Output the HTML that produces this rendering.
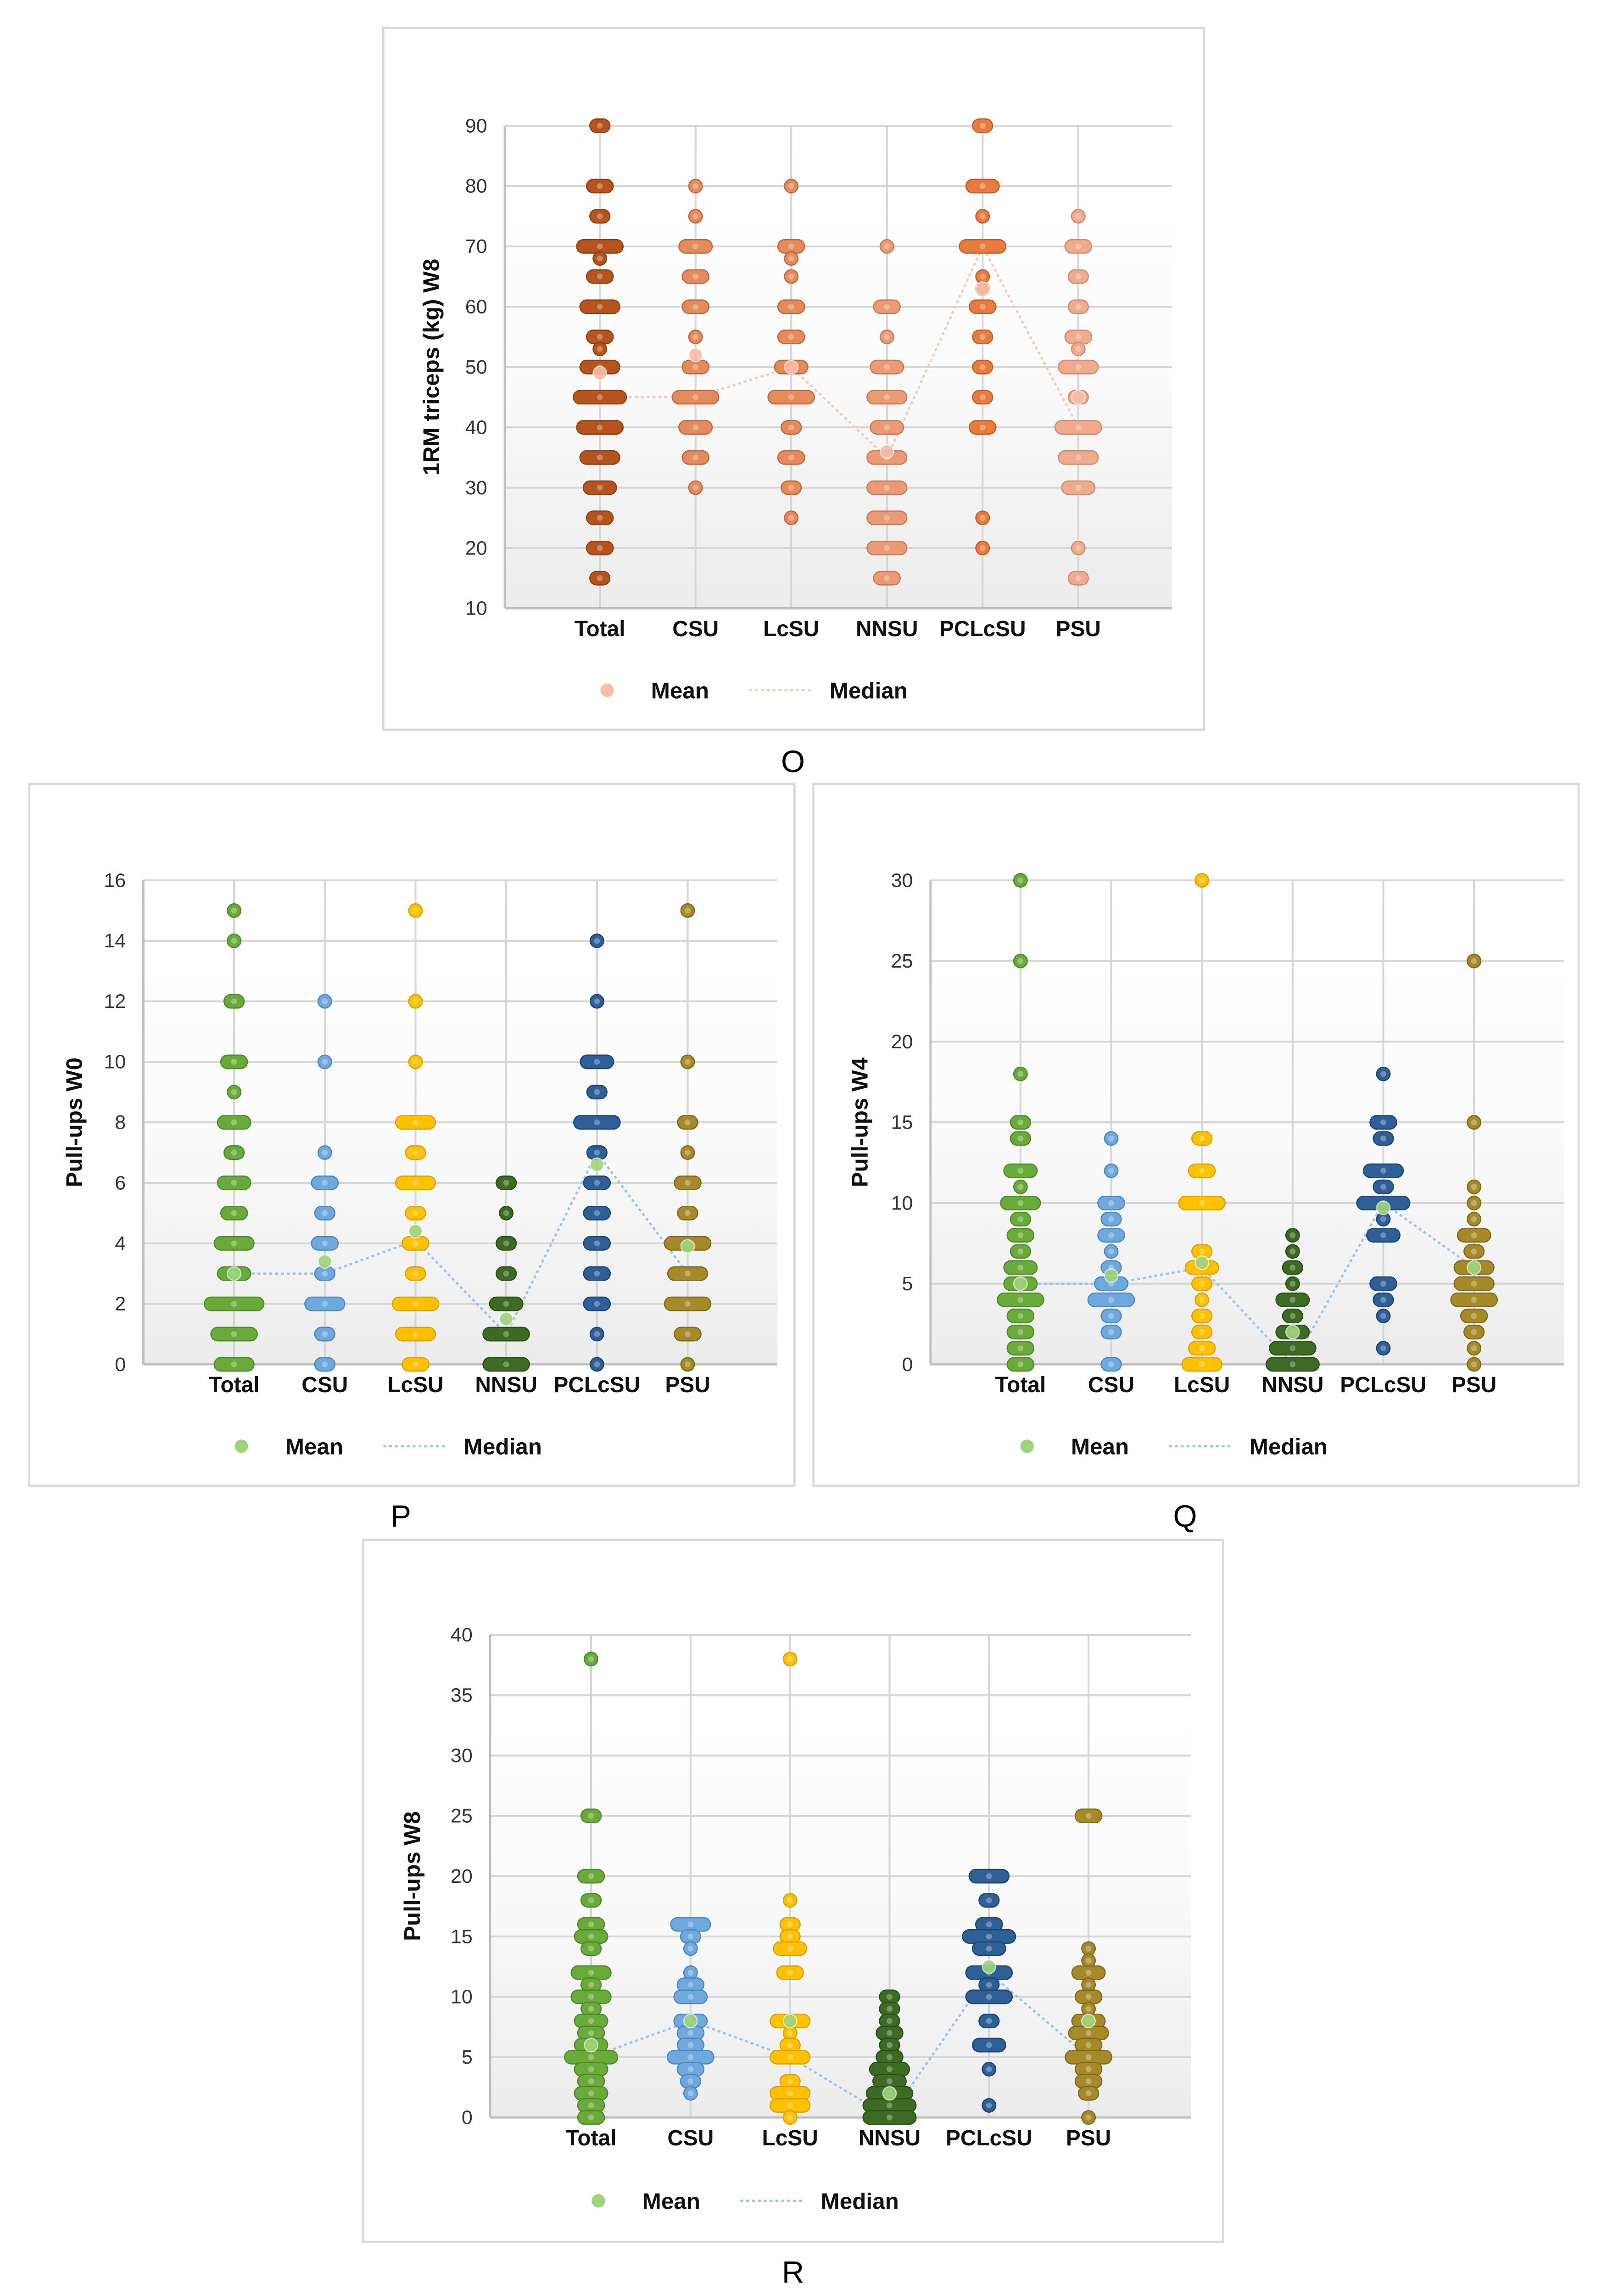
<!DOCTYPE html>
<html><head><meta charset="utf-8"><style>
html,body{margin:0;padding:0;background:#fff;overflow:hidden;width:100%;height:100%}
svg{display:block;position:absolute;left:0;top:0;width:100vw;height:100vh}
text{font-family:"Liberation Sans",Arial,sans-serif}
</style></head><body>
<svg id="fig" xmlns="http://www.w3.org/2000/svg" viewBox="0 0 1110 1569.4" preserveAspectRatio="none">
<defs>
<linearGradient id="bg" x1="0" y1="0" x2="0" y2="1"><stop offset="0" stop-color="#ffffff"/><stop offset="0.5" stop-color="#fbfbfb"/><stop offset="1" stop-color="#ececec"/></linearGradient>
</defs>
</svg>
<script>
const categories = ["Total","CSU","LcSU","NNSU","PCLcSU","PSU"];
// O: [value,count]
const oTotal=[[90,2],[80,3],[75,2],[70,6],[68,1],[65,3],[60,5],[55,3],[53,1],[50,5],[45,7],[40,6],[35,5],[30,4],[25,3],[20,3],[15,2]];
const oCSU=[[80,1],[75,1],[70,4],[65,3],[60,3],[55,1],[50,3],[45,6],[40,4],[35,3],[30,1]];
const oLcSU=[[80,1],[70,3],[68,1],[65,1],[60,3],[55,3],[50,4],[45,6],[40,2],[35,3],[30,2],[25,1]];
const oNNSU=[[70,1],[60,3],[55,1],[50,4],[45,5],[40,4],[35,5],[30,5],[25,5],[20,5],[15,3]];
const oPCLcSU=[[90,2],[80,4],[75,1],[70,6],[65,1],[63,1],[60,3],[55,2],[50,2],[45,2],[40,3],[25,1],[20,1]];
const oPSU=[[75,1],[70,3],[65,2],[60,2],[55,3],[53,1],[50,5],[45,2],[40,6],[35,5],[30,4],[20,1],[15,2]];
const oMedian=[45,45,50,35,70,40];
const oMean=[49,52,50,36,63,45];
const oTicks=[10,20,30,40,50,60,70,80,90];

const pTotal=[[15,1],[14,1],[12,2],[10,3],[9,1],[8,4],[7,2],[6,4],[5,3],[4,5],[3,4],[2,8],[1,6],[0,5]];
const pCSU=[[12,1],[10,1],[7,1],[6,3],[5,2],[4,3],[3,2],[2,5],[1,2],[0,2]];
const pLcSU=[[15,1],[12,1],[10,1],[8,5],[7,2],[6,5],[5,2],[4,3],[3,2],[2,6],[1,5],[0,3]];
const pNNSU=[[6,2],[5,1],[4,2],[3,2],[2,4],[1,6],[0,6]];
const pPCLcSU=[[14,1],[12,1],[10,4],[9,2],[8,6],[7,2],[6,3],[5,3],[4,3],[3,3],[2,3],[1,1],[0,1]];
const pPSU=[[15,1],[10,1],[8,2],[7,1],[6,3],[5,2],[4,6],[3,5],[2,6],[1,3],[0,1]];
const pMedian=[3,3,4.1,1,7,3];
const pMean=[3,3.4,4.4,1.5,6.6,3.9];
const pTicks=[0,2,4,6,8,10,12,14,16];

const qTotal=[[30,1],[25,1],[18,1],[15,2],[14,2],[12,4],[11,1],[10,5],[9,2],[8,3],[7,2],[6,4],[5,4],[4,6],[3,3],[2,3],[1,3],[0,3]];
const qCSU=[[14,1],[12,1],[10,3],[9,2],[8,3],[7,1],[6,2],[5,4],[4,6],[3,2],[2,2],[0,2]];
const qLcSU=[[30,1],[14,2],[12,3],[10,6],[7,2],[6,4],[5,2],[4,1],[3,2],[2,2],[1,3],[0,5]];
const qNNSU=[[8,1],[7,1],[6,2],[5,1],[4,4],[3,2],[2,4],[1,6],[0,7]];
const qPCLcSU=[[18,1],[15,3],[14,2],[12,5],[11,2],[10,7],[9,1],[8,4],[5,3],[4,2],[3,1],[1,1]];
const qPSU=[[25,1],[15,1],[11,1],[10,1],[9,1],[8,4],[7,2],[6,5],[5,5],[4,6],[3,3],[2,2],[1,1],[0,1]];
const qMedian=[5,5,6,0,10,6];
const qMean=[5,5.5,6.3,2,9.7,6];
const qTicks=[0,5,10,15,20,25,30];

const rTotal=[[38,1],[25,2],[20,3],[18,2],[16,3],[15,4],[14,2],[12,5],[11,2],[10,5],[9,2],[8,4],[7,3],[6,4],[5,7],[4,4],[3,3],[2,4],[1,3],[0,3]];
const rCSU=[[16,5],[15,2],[14,1],[12,1],[11,3],[10,4],[8,4],[7,3],[6,3],[5,6],[4,3],[3,2],[2,1]];
const rLcSU=[[38,1],[18,1],[16,2],[15,2],[14,4],[12,3],[8,5],[7,1],[6,2],[5,5],[3,2],[2,5],[1,5],[0,1]];
const rNNSU=[[10,2],[9,2],[8,2],[7,3],[6,2],[5,3],[4,5],[3,4],[2,6],[1,7],[0,7]];
const rPCLcSU=[[20,5],[18,2],[16,3],[15,7],[14,4],[12,6],[11,2],[10,6],[8,2],[6,4],[4,1],[1,1]];
const rPSU=[[25,3],[14,1],[13,1],[12,4],[11,1],[10,3],[9,1],[8,4],[7,5],[6,3],[5,6],[4,3],[3,3],[2,2],[0,1]];
const rMedian=[5,8,5,0,12,5];
const rMean=[6,8,8,2,12.5,8];
const rTicks=[0,5,10,15,20,25,30,35,40];

const NS="http://www.w3.org/2000/svg";
const svg=document.getElementById('fig');
function mk(tag,attrs,parent){const e=document.createElementNS(NS,tag);for(const k in attrs)e.setAttribute(k,attrs[k]);(parent||svg).appendChild(e);return e;}

function panel(cfg){
  const g=mk('g',{});
  
  
  const fr=mk('rect',{x:cfg.fx,y:cfg.fy,width:cfg.fw,height:cfg.fh,fill:'#fff',stroke:'#d9d9d9','stroke-width':1.5},g);
  
  
  const [x0,x1,y0,y1]=[cfg.px0,cfg.px1,cfg.py0,cfg.py1];
  const tmin=cfg.ticks[0],tmax=cfg.ticks[cfg.ticks.length-1];
  const ys=v=>y1-(v-tmin)/(tmax-tmin)*(y1-y0);
  const xs=i=>cfg.cx0+i*cfg.cstep;
  const bg=mk('rect',{x:x0,y:y0,width:x1-x0,height:y1-y0,fill:'url(#bg)'},g);
  
  
  cfg.ticks.forEach(t=>{
    const l=mk('line',{x1:x0,x2:x1,y1:ys(t),y2:ys(t),stroke:'#d6d6d6','stroke-width':1.3},g);
    
    
    const tx=mk('text',{x:x0-12,y:ys(t)+4.5,'text-anchor':'end','font-size':13.5,fill:'#333'},g);
    tx.textContent=t;
    
    
  });
  categories.forEach((c,i)=>{
    const l=mk('line',{x1:xs(i),x2:xs(i),y1:y0,y2:y1,stroke:'#d6d6d6','stroke-width':1.3},g);
    
    
    const tx=mk('text',{x:xs(i),y:y1+19,'text-anchor':'middle','font-size':15,'font-weight':'bold',fill:'#111'},g);
    tx.textContent=c;
    
    
  });
  const ax=mk('line',{x1:x0,x2:x0,y1:y0,y2:y1,stroke:'#bfbfbf','stroke-width':1.5},g);
  
  
  const ax2=mk('line',{x1:x0,x2:x1,y1:y1,y2:y1,stroke:'#bfbfbf','stroke-width':1.5},g);
  
  
  const pts=cfg.median.map((v,i)=>xs(i)+','+ys(v)).join(' ');
  const ml=mk('polyline',{points:pts,fill:'none',stroke:cfg.medCol,'stroke-width':1.5,'stroke-dasharray':'2 2'},g);
  
  
  const r=4.6, sp=4.5;
  cfg.groups.forEach((grp,i)=>{
    grp.forEach(([v,n])=>{
      const w=2*r+(n-1)*sp;
      const p=mk('rect',{x:xs(i)-w/2,y:ys(v)-r,width:w,height:2*r,rx:r,fill:cfg.colors[i],stroke:cfg.strokes[i],'stroke-width':0.8},g);
      
      
      const c=mk('circle',{cx:xs(i),cy:ys(v),r:2,fill:'#ffffff','fill-opacity':0.3},g);
      
      
    });
  });
  cfg.mean.forEach((v,i)=>{
    const c=mk('circle',{cx:xs(i),cy:ys(v),r:4.6,fill:cfg.meanCol,'fill-opacity':0.9,stroke:'#fff','stroke-opacity':0.6,'stroke-width':0.8},g);
    
    
  });
  const yt=mk('text',{x:0,y:0,transform:`translate(${cfg.ytx},${(y0+y1)/2}) rotate(-90)`,'text-anchor':'middle','font-size':15.5,'font-weight':'bold',fill:'#111'},g);
  yt.textContent=cfg.ytitle;
  
  
  const lg=mk('g',{},g);
  
  
  const lc=mk('circle',{cx:cfg.lx,cy:cfg.ly,r:4.6,fill:cfg.meanCol},lg);
  
  
  const lt=mk('text',{x:cfg.lx+30,y:cfg.ly+5.5,'font-size':15.5,'font-weight':'bold',fill:'#111'},lg);
  lt.textContent='Mean';
  
  
  const ll=mk('line',{x1:cfg.lx+97,x2:cfg.lx+141,y1:cfg.ly,y2:cfg.ly,stroke:cfg.medCol,'stroke-width':1.5,'stroke-dasharray':'2 2'},lg);
  
  
  const lt2=mk('text',{x:cfg.lx+152,y:cfg.ly+5.5,'font-size':15.5,'font-weight':'bold',fill:'#111'},lg);
  lt2.textContent='Median';
  
  
  const cap=mk('text',{x:cfg.capx,y:cfg.capy,'text-anchor':'middle','font-size':21,fill:'#000','font-family':'Liberation Serif, serif'},svg);
  cap.textContent=cfg.caption;
  
  
}
const brightCols=["#6aaa3a","#6fa8dc","#ffc000","#3d6b24","#2e5f96","#a68a2a"];
const brightStr=["#4f8a28","#4f88bc","#d9a300","#2a4f18","#1f4673","#7f6a1c"];
panel({name:'chart-o-1rm-triceps-w8',fx:262,fy:19,fw:561,fh:480,px0:345,px1:801,py0:86,py1:416,cx0:410,cstep:65.4,ticks:oTicks,
  groups:[oTotal,oCSU,oLcSU,oNNSU,oPCLcSU,oPSU],median:oMedian,mean:oMean,
  colors:["#b5541e","#e28b5c","#e58a5a","#ea9a74","#e87b40","#f0aa8e"],strokes:["#8e3f12","#c0683c","#c0683c","#c97a55","#c05e28","#d08c70"],
  meanCol:'#f6bca6',medCol:'#f5c9b8',ytitle:'1RM triceps (kg) W8',ytx:300,lx:415,ly:472,capx:542,capy:528,caption:'O'});
panel({name:'chart-p-pullups-w0',fx:20,fy:536,fw:523,fh:480,px0:98,px1:531,py0:602,py1:933,cx0:160,cstep:62,ticks:pTicks,
  groups:[pTotal,pCSU,pLcSU,pNNSU,pPCLcSU,pPSU],median:pMedian,mean:pMean,colors:brightCols,strokes:brightStr,
  meanCol:'#9fd47a',medCol:'#9dc3e6',ytitle:'Pull-ups  W0',ytx:56,lx:165,ly:989,capx:274,capy:1044,caption:'P'});
panel({name:'chart-q-pullups-w4',fx:556,fy:536,fw:523,fh:480,px0:636,px1:1069,py0:602,py1:933,cx0:697.5,cstep:62,ticks:qTicks,
  groups:[qTotal,qCSU,qLcSU,qNNSU,qPCLcSU,qPSU],median:qMedian,mean:qMean,colors:brightCols,strokes:brightStr,
  meanCol:'#9fd47a',medCol:'#9dc3e6',ytitle:'Pull-ups W4',ytx:593,lx:702,ly:989,capx:810,capy:1044,caption:'Q'});
panel({name:'chart-r-pullups-w8',fx:248,fy:1053,fw:588,fh:480,px0:335,px1:814,py0:1118,py1:1448,cx0:404,cstep:68,ticks:rTicks,
  groups:[rTotal,rCSU,rLcSU,rNNSU,rPCLcSU,rPSU],median:rMedian,mean:rMean,colors:brightCols,strokes:brightStr,
  meanCol:'#9fd47a',medCol:'#9dc3e6',ytitle:'Pull-ups W8',ytx:287,lx:409,ly:1505,capx:542,capy:1561,caption:'R'});
</script>
</body></html>
